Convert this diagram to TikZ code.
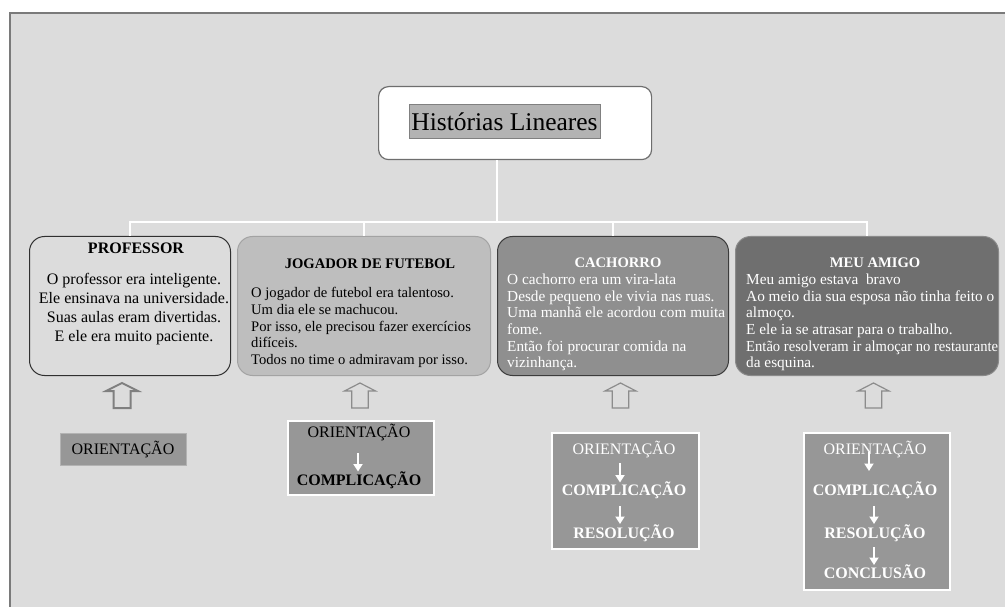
\documentclass[tikz,border=0pt]{standalone}
\usepackage{fontspec}
\usepackage{graphicx}
\setmainfont{Liberation Serif}
\usetikzlibrary{arrows.meta}
\definecolor{bg}{HTML}{DCDCDC}
\definecolor{framegray}{HTML}{7A7A7A}
\definecolor{rootborder}{HTML}{6E6E6E}
\definecolor{hl}{HTML}{B3B3B3}
\definecolor{hlb}{HTML}{808080}
\definecolor{fillA}{HTML}{DCDCDC}
\definecolor{drawA}{HTML}{303030}
\definecolor{fillB}{HTML}{BEBEBE}
\definecolor{drawB}{HTML}{A3A3A3}
\definecolor{fillC}{HTML}{8F8F8F}
\definecolor{drawC}{HTML}{3C3C3C}
\definecolor{fillD}{HTML}{6F6F6F}
\definecolor{drawD}{HTML}{8A8A8A}
\definecolor{ofill}{HTML}{979797}
\definecolor{arrA}{HTML}{7F7F7F}
\definecolor{arrB}{HTML}{8C8C8C}
\newcommand\setfs[2]{\fontsize{#1pt}{#2pt}\selectfont}
\begin{document}
\begin{tikzpicture}[x=1pt,y=-1pt,
  conn/.style={white,line width=2.5pt},
  story/.style={rounded corners=15pt,line width=1pt,minimum height=139pt,anchor=north west,inner sep=0pt},
  ttl/.style={font=\setfs{14.6}{16.8}\bfseries,anchor=base,inner sep=0pt},
  bodyA/.style={font=\setfs{16}{19.2},align=center,anchor=north,inner sep=0pt},
  bodyB/.style={font=\setfs{14.6}{16.75},align=left,anchor=north west,inner sep=0pt},
  bodyC/.style={font=\setfs{15.3}{16.6},align=left,anchor=north west,inner sep=0pt,text=white},
  obox/.style={fill=ofill,anchor=north west,inner sep=0pt},
  otext/.style={font=\setfs{16}{19},anchor=base,inner sep=0pt},
  warr/.style={white,line width=2.8pt,-{Triangle[width=9pt,length=7.5pt]}},
  uparr/.style={line join=miter,fill=none}
]
\useasboundingbox (0,0) rectangle (1005,607);
\fill[white] (0,0) rectangle (1005,607);
\draw[fill=bg,draw=framegray,line width=2pt] (9.5,13.5) rectangle (1015,620);

% root
\node[draw=rootborder,fill=white,rounded corners=10pt,line width=1.2pt,
      minimum width=273pt,minimum height=73pt,anchor=north west,inner sep=0pt] (root) at (378,86) {};
\node[fill=hl,draw=hlb,line width=1pt,minimum width=191pt,minimum height=34pt,inner sep=0pt,
      font=\setfs{25.5}{29}] (roottxt) at (504.5,122) {Histórias Lineares};

% story boxes
\node[story,fill=fillA,draw=drawA,minimum width=201pt] (b1) at (29,236) {};
\node[story,fill=fillB,draw=drawB,minimum width=253pt] (b2) at (237,236) {};
\node[story,fill=fillC,draw=drawC,minimum width=231pt] (b3) at (497,236) {};
\node[story,fill=fillD,draw=drawD,minimum width=263pt] (b4) at (735,236) {};

% connectors
\coordinate (hub) at (497,222);
\draw[conn] (root.south -| hub) -- (hub);
\draw[conn] (b1.north) |- (hub) -| (b4.north);
\draw[conn] (b2.north) -- (b2.north |- hub);
\draw[conn] (b3.north) -- (b3.north |- hub);

% story texts
\node[ttl,font=\setfs{16}{19.2}\bfseries] (t1) at (136,253.3) {PROFESSOR};
\node[bodyA] (x1) at (134,270.6) {\strut O professor era inteligente.\\Ele ensinava na universidade.\\Suas aulas eram divertidas.\\E ele era muito paciente.};

\node[ttl] (t2) at (370,268.8) {JOGADOR DE FUTEBOL};
\node[bodyB] (x2) at (251,285.8) {\strut O jogador de futebol era talentoso.\\Um dia ele se machucou.\\Por isso, ele precisou fazer exercícios\\difíceis.\\Todos no time o admiravam por isso.};

\node[ttl,text=white] (t3) at (618,267.8) {CACHORRO};
\node[bodyC] (x3) at (507,272.9) {\strut O cachorro era um vira-lata\\Desde pequeno ele vivia nas ruas.\\Uma manhã ele acordou com muita\\fome.\\Então foi procurar comida na\\vizinhança.};

\node[ttl,text=white] (t4) at (875,267.8) {MEU AMIGO};
\node[bodyC] (x4) at (746,272.9) {\strut Meu amigo estava\ \ bravo\\Ao meio dia sua esposa não tinha feito o\\almoço.\\E ele ia se atrasar para o trabalho.\\\scalebox{0.955}[1]{Então resolveram ir almoçar no restaurante}\\da esquina.};

% hollow up arrows
\draw[uparr,draw=arrA,line width=2pt] (113.5,408) -- (113.5,391) -- (106,391) -- (122,383) -- (138,391) -- (130.5,391) -- (130.5,408) -- cycle;
\foreach \c in {360,620.5,873.5}{
  \draw[uparr,draw=arrB,line width=1.2pt] (\c-8.3,408) -- (\c-8.3,391) -- (\c-15.5,391) -- (\c,383) -- (\c+15.5,391) -- (\c+8.3,391) -- (\c+8.3,408) -- cycle;
}

% bottom boxes
\node[obox,draw=hlb!60!white,line width=0.8pt,minimum width=126pt,minimum height=32pt] (o1) at (60,433) {};
\node[otext] (o1a) at (123,454.3) {ORIENTAÇÃO};

\node[obox,draw=white,line width=2pt,minimum width=146pt,minimum height=74pt] (o2) at (287,420) {};
\node[otext] (o2a) at (359,437.3) {ORIENTAÇÃO};
\node[otext,font=\setfs{16}{19}\bfseries] (o2b) at (359,485.3) {COMPLICAÇÃO};
\coordinate (o2s) at (358,453); \coordinate (o2e) at (358,471.5);
\draw[warr] (o2s) -- (o2e);

\node[obox,draw=white,line width=2pt,minimum width=147pt,minimum height=116pt] (o3) at (551,432) {};
\node[otext,text=white] (o3a) at (624,454.3) {ORIENTAÇÃO};
\node[otext,text=white,font=\setfs{16}{19}\bfseries] (o3b) at (624,495.3) {COMPLICAÇÃO};
\node[otext,text=white,font=\setfs{16}{19}\bfseries] (o3c) at (624,538.3) {RESOLUÇÃO};
\coordinate (o3s1) at (620,463); \coordinate (o3e1) at (620,482.5);
\coordinate (o3s2) at (620,506); \coordinate (o3e2) at (620,524);
\draw[warr] (o3s1) -- (o3e1);
\draw[warr] (o3s2) -- (o3e2);

\node[obox,draw=white,line width=2pt,minimum width=146pt,minimum height=157pt] (o4) at (803,432) {};
\node[otext,text=white] (o4a) at (875,454.3) {ORIENTAÇÃO};
\node[otext,text=white,font=\setfs{16}{19}\bfseries] (o4b) at (875,495.3) {COMPLICAÇÃO};
\node[otext,text=white,font=\setfs{16}{19}\bfseries] (o4c) at (875,538.3) {RESOLUÇÃO};
\node[otext,text=white,font=\setfs{16}{19}\bfseries] (o4d) at (875,578.3) {CONCLUSÃO};
\coordinate (o4s1) at (869,452); \coordinate (o4e1) at (869,471);
\coordinate (o4s2) at (874,506); \coordinate (o4e2) at (874,524);
\coordinate (o4s3) at (874,547); \coordinate (o4e3) at (874,565);
\draw[warr] (o4s1) -- (o4e1);
\draw[warr] (o4s2) -- (o4e2);
\draw[warr] (o4s3) -- (o4e3);
\end{tikzpicture}
\end{document}
